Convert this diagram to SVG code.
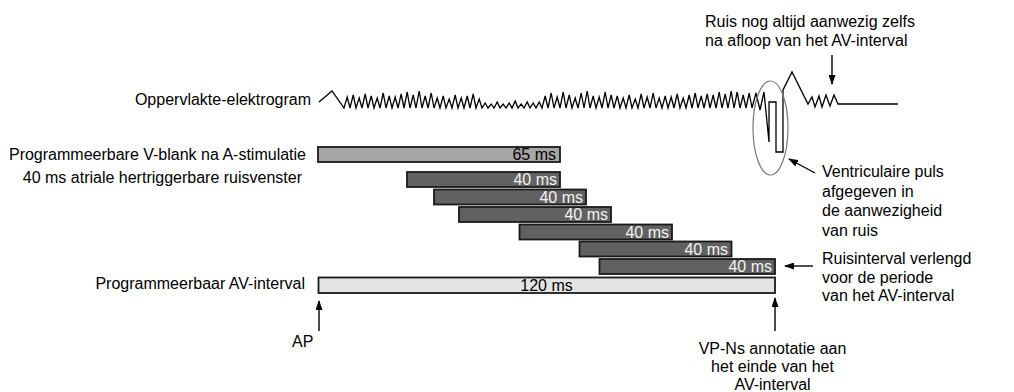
<svg xmlns="http://www.w3.org/2000/svg" width="1014" height="392" viewBox="0 0 1014 392">
<defs>
<style>
.t{font-family:"Liberation Sans",Arial,sans-serif;font-size:16px;fill:#000}
.w{fill:#f4f4f4}
.bar{stroke:#1a1a1a;stroke-width:1.8}
.dk{fill:#616161}
.ln{stroke:#000;stroke-width:1.3;fill:none;stroke-linejoin:miter}
.ar{stroke:#000;stroke-width:1.4;fill:none;marker-end:url(#ah)}
</style>
<marker id="ah" viewBox="0 0 10 7" refX="9" refY="3.5" markerWidth="10" markerHeight="7" markerUnits="userSpaceOnUse" orient="auto"><path d="M0,0 L10,3.5 L0,7 z" fill="#000"/></marker>
</defs>
<rect width="1014" height="392" fill="#fff"/>

<g id="egm">
<text class="t" x="311" y="105" text-anchor="end">Oppervlakte-elektrogram</text>
<path class="ln" d="M319,102 L332,91 L344,108
l3.2,-11 l2.8,11 l3.2,-13 l2.8,13 l3.2,-10 l2.8,10 l3.2,-14 l2.8,14 l3.2,-12 l2.8,12 l3.2,-10 l2.8,10 l3.2,-15 l2.8,15 l3.2,-12 l2.8,12 l3.2,-11 l2.8,11
l3.2,-14 l2.8,14 l3.2,-16 l2.8,16 l3.2,-13 l2.8,13 l3.2,-17 l2.8,17 l3.2,-12 l2.8,12 l3.2,-15 l2.8,15
l3.2,-10 l2.8,10 l3.2,-12 l2.8,12 l3.2,-9 l2.8,9 l3.2,-13 l2.8,13 l3.2,-10 l2.8,10 l3.2,-12 l2.8,12 l3.2,-14 l2.8,14 l3.2,-9 l2.8,9
l3.2,-5 l2.8,5 l3.2,-4 l2.8,4 l3.2,-6 l2.8,6 l3.2,-4 l2.8,4 l3.2,-5 l2.8,5 l3.2,-7 l2.8,7 l3.2,-4 l2.8,4 l3.2,-6 l2.8,6 l3.2,-5 l2.8,5 l3.2,-6 l2.8,6
l3.2,-12 l2.8,12 l3.2,-15 l2.8,15 l3.2,-11 l2.8,11 l3.2,-16 l2.8,16 l3.2,-13 l2.8,13 l3.2,-10 l2.8,10 l3.2,-15 l2.8,15 l3.2,-17 l2.8,17 l3.2,-12 l2.8,12 l3.2,-11 l2.8,11 l3.2,-16 l2.8,16 l3.2,-13 l2.8,13 l3.2,-12 l2.8,12
l3.2,-10 l2.8,10 l3.2,-13 l2.8,13 l3.2,-9 l2.8,9 l3.2,-14 l2.8,14 l3.2,-11 l2.8,11 l3.2,-15 l2.8,15 l3.2,-10 l2.8,10 l3.2,-12 l2.8,12 l3.2,-11 l2.8,11 l3.2,-14 l2.8,14 l3.2,-10 l2.8,10 l3.2,-13 l2.8,13 l3.2,-15 l2.8,15
l3.2,-12 l2.8,12 l3.2,-14 l2.8,14 l3.2,-13 l2.8,13 l3.2,-16 l2.8,16 l3.2,-14 l2.8,14 l3.2,-17 l2.8,17 l3.2,-16 l2.8,16 l3.2,-13 l2.8,13 l3.2,-15 l2.8,15
L756,93 L760,110 L764,92 L769,142 L769,102 L776,102 L776,152 L783,152 L783,90 L792,72 L808,104 L812,97 L815,107 L819,96 L822,107 L826,95 L830,106 L834,95 L838,104 L898,104"/>
<ellipse cx="770.5" cy="128" rx="17.5" ry="47" fill="none" stroke="#777" stroke-width="1.2"/>
</g>

<g id="vblank">
<text class="t" x="306" y="160" text-anchor="end">Programmeerbare V-blank na A-stimulatie</text>
<rect class="bar" x="318" y="147" width="242" height="15" fill="#a6a6a6"/>
<text class="t" x="556" y="160" text-anchor="end">65 ms</text>
</g>

<g id="noise-label">
<text class="t" x="302" y="183" text-anchor="end">40 ms atriale hertriggerbare ruisvenster</text>
</g>

<g id="noise1">
<rect class="bar dk" x="407" y="172" width="153" height="15"/>
<text class="t w" x="557" y="185" text-anchor="end">40 ms</text>
</g>
<g id="noise2">
<rect class="bar dk" x="434" y="189.5" width="152" height="15"/>
<text class="t w" x="583" y="202.5" text-anchor="end">40 ms</text>
</g>
<g id="noise3">
<rect class="bar dk" x="459" y="207" width="152" height="15"/>
<text class="t w" x="608" y="220" text-anchor="end">40 ms</text>
</g>
<g id="noise4">
<rect class="bar dk" x="519.5" y="224.5" width="152.5" height="15"/>
<text class="t w" x="669" y="237.5" text-anchor="end">40 ms</text>
</g>
<g id="noise5">
<rect class="bar dk" x="579.5" y="241.5" width="152" height="15"/>
<text class="t w" x="728" y="254.5" text-anchor="end">40 ms</text>
</g>
<g id="noise6">
<rect class="bar dk" x="599.5" y="259" width="175.5" height="15"/>
<text class="t w" x="772" y="272" text-anchor="end">40 ms</text>
</g>

<g id="av">
<text class="t" x="305" y="289" text-anchor="end">Programmeerbaar AV-interval</text>
<rect class="bar" x="318.5" y="277.5" width="456.5" height="15.5" fill="#e4e4e4"/>
<text class="t" x="546.5" y="291" text-anchor="middle" fill="#222">120 ms</text>
</g>

<g id="ap">
<text class="t" x="292" y="347">AP</text>
</g>

<g id="note-noise">
<text class="t" x="705" y="27">Ruis nog altijd aanwezig zelfs</text>
<text class="t" x="705" y="46">na afloop van het AV-interval</text>
</g>

<g id="note-vpulse">
<text class="t" x="822" y="177">Ventriculaire puls</text>
<text class="t" x="822" y="196.5">afgegeven in</text>
<text class="t" x="822" y="216">de aanwezigheid</text>
<text class="t" x="822" y="235.5">van ruis</text>
</g>

<g id="note-extend">
<text class="t" x="822" y="264">Ruisinterval verlengd</text>
<text class="t" x="822" y="282.5">voor de periode</text>
<text class="t" x="822" y="301">van het AV-interval</text>
</g>

<g id="note-vpns">
<text class="t" x="772.5" y="354" text-anchor="middle">VP-Ns annotatie aan</text>
<text class="t" x="772.5" y="372" text-anchor="middle">het einde van het</text>
<text class="t" x="772.5" y="390" text-anchor="middle">AV-interval</text>
</g>

<g id="connectors">
<line class="ar" x1="832" y1="55" x2="832" y2="84"/>
<line class="ar" x1="815" y1="173" x2="789" y2="159"/>
<line class="ar" x1="813" y1="266" x2="785" y2="266"/>
<line class="ar" x1="319" y1="331" x2="319" y2="301"/>
<line class="ar" x1="775" y1="331" x2="775" y2="298"/>
</g>
</svg>
